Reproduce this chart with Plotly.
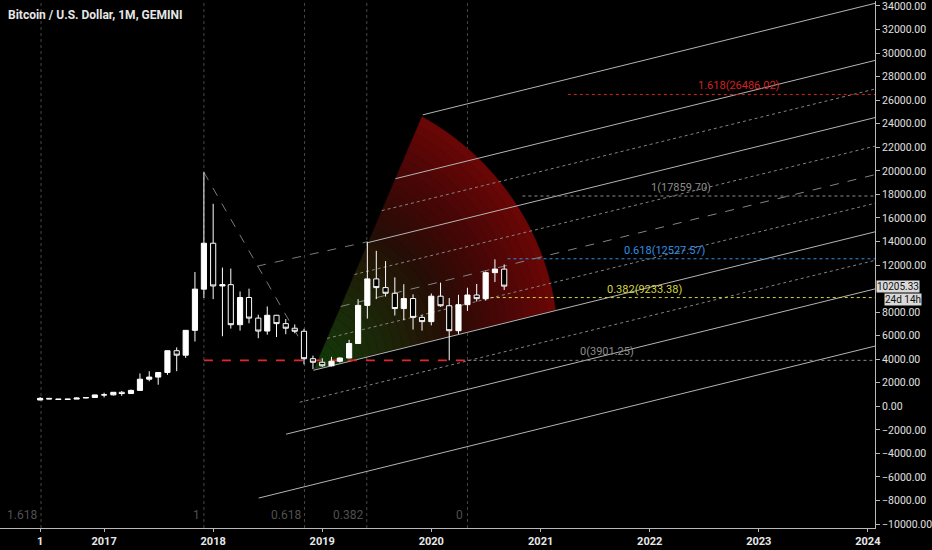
import math
import numpy as np
import pandas as pd
import plotly.graph_objects as go

# ---------------- data (monthly candles, BTC/USD Gemini) ----------------
first_month = "2016-06-01"
opens = [531, 673, 624, 575, 609, 700, 745,
         965, 970, 1190, 1080, 1350, 2300, 2480, 2870, 4720, 4340, 6450, 9950,
         13850, 10220, 10330, 6930, 9240, 7490, 6390, 7730, 7020, 6630, 6370, 4040,
         3740, 3440, 3820, 4100, 5330, 8570, 10820, 10080, 9600, 8300, 9150, 7550,
         7190, 9350, 8540, 6420, 8630, 9450, 9140, 11350, 11650]
highs = [780, 705, 626, 630, 740, 755, 980,
         1150, 1210, 1290, 1420, 2790, 2980, 2900, 4750, 5000, 6470, 11400, 19870,
         17200, 11780, 11700, 9750, 9990, 7780, 8480, 7760, 7410, 6950, 6580, 4300,
         4080, 4200, 4140, 5640, 9100, 13970, 13200, 12330, 10950, 10370, 9510, 7750,
         9580, 10500, 9190, 9470, 10070, 10390, 11450, 12480, 12050]
lows = [515, 600, 535, 570, 605, 680, 740,
        750, 920, 890, 1060, 1350, 2120, 1830, 2670, 2980, 4110, 5500, 9200,
        9100, 5950, 6600, 6430, 7050, 5780, 6080, 5880, 6120, 6200, 3560, 3150,
        3350, 3380, 3720, 4080, 5330, 7450, 9100, 9320, 7710, 7300, 6520, 6430,
        6870, 8450, 3901.25, 6150, 8100, 8900, 8970, 10550, 9880]
closes = [673, 624, 575, 609, 700, 745, 965,
          970, 1190, 1080, 1350, 2300, 2480, 2870, 4720, 4340, 6450, 9950, 13850,
          10220, 10330, 6930, 9240, 7490, 6390, 7730, 7020, 6630, 6370, 4040, 3740,
          3440, 3820, 4100, 5330, 8570, 10820, 10080, 9600, 8300, 9150, 7550, 7190,
          9350, 8540, 6420, 8630, 9450, 9140, 11350, 11650, 10205.33]
dates = pd.date_range(first_month, periods=len(opens), freq="MS")

last_price = 10205.33
countdown = "24d 14h"
title_text = "Bitcoin / U.S. Dollar, 1M, GEMINI"

tick_dates = ["2016-06-01", "2017-01-01", "2018-01-01", "2019-01-01", "2020-01-01",
              "2021-01-01", "2022-01-01", "2023-01-01", "2024-01-01"]
tick_text = ["1", "2017", "2018", "2019", "2020", "2021", "2022", "2023", "2024"]
# 10000 is covered by the last-price box in the reference
price_ticks = [v for v in range(-10000, 34001, 2000) if v != 10000]

# Fib time zones
fib_time_levels = [1.618, 1, 0.618, 0.382, 0]
fib_time_one = "2017-12-01"
fib_time_zero = "2020-05-01"

# Fib extension levels
fib_ext_levels = ["0", "0.382", "0.618", "1", "1.618"]
fib_ext_prices = [3901.25, 9233.38, 12527.57, 17859.70, 26486.02]
fib_ext_colors = ["#8c8c8c", "#d6d63a", "#2f8fe0", "#8c8c8c", "#d32020"]
fib_ext_start = ["2020-05-01", "2020-07-18", "2020-09-12", "2020-11-01", "2021-04-02"]
fib_ext_label_at = ["2021-05-05", "2021-08-03", "2021-09-29", "2021-12-31", "2022-06-04"]

# Pitchfork (median start, offset to upper prong, slope)
pf_mid_date, pf_mid_price = "2019-03-04", 8480
pf_off_days, pf_off_price = 183, 10850
pf_slope = 6.26  # USD per day
pf_levels = [1.5, 1, 0.75, 0.5, 0.25, 0, -0.25, -0.5, -0.75, -1, -1.5]
pf_styles = ["solid", "solid", "dot", "solid", "dot", "dash", "dot", "solid", "dot", "solid", "solid"]

# other drawings
zigzag_a = [("2017-12-01", 19870), ("2018-10-20", 5600)]
zigzag_b = [("2018-05-28", 11900), ("2019-06-01", 13970)]
support_price = 3901.25
support_span = ("2017-12-01", "2020-05-01")

wedge_apex = ("2018-12-05", 3137)
wedge_top = ("2019-12-01", 24586)

# ---------------- axes geometry ----------------
X0, X1 = pd.Timestamp("2016-01-18 14:00"), pd.Timestamp("2024-01-25")
Y0, Y1 = -10339, 34424
PLOT_W, PLOT_H = 883, 528
px_per_day = PLOT_W / ((X1 - X0).total_seconds() / 86400)
px_per_usd = PLOT_H / (Y1 - Y0)

FONT = "Liberation Sans Narrow, Arial Narrow, Roboto, sans-serif"

shapes = []

# ---------------- Fib wedge (gradient sector) ----------------
a_d, a_p = pd.Timestamp(wedge_apex[0]), wedge_apex[1]
t_d, t_p = pd.Timestamp(wedge_top[0]), wedge_top[1]
dxp = (t_d - a_d).days * px_per_day
dyp = (t_p - a_p) * px_per_usd
R1 = math.hypot(dxp, dyp)
th1 = math.atan2(dyp, dxp)
th2 = math.atan(pf_slope * px_per_usd / px_per_day)
R2 = 0.91 * R1
angles = np.linspace(th2, th1, 60)
Rth = R2 + (R1 - R2) * (angles - th2) / (th1 - th2)


def path_point(xp, yp):
    d = a_d + pd.Timedelta(days=float(xp / px_per_day))
    p = a_p + yp / px_per_usd
    return "%s,%.2f" % (d.strftime("%Y-%m-%d_%H:%M:%S"), p)


def wedge_color(t):
    stops = [(0.0, (18, 58, 10)), (0.3, (28, 38, 8)), (0.55, (38, 14, 6)),
             (0.8, (76, 6, 6)), (1.0, (108, 6, 6))]
    for (t0, c0), (t1, c1) in zip(stops[:-1], stops[1:]):
        if t <= t1:
            f = (t - t0) / (t1 - t0)
            return "rgb(%d,%d,%d)" % tuple(int(c0[k] + f * (c1[k] - c0[k])) for k in range(3))
    return "rgb(%d,%d,%d)" % stops[-1][1]


NB = 30
for i in range(NB):
    ro, ri = (i + 1) / NB, i / NB
    xo = ro * Rth * np.cos(angles)
    yo = ro * Rth * np.sin(angles)
    xi = (ri * Rth * np.cos(angles))[::-1]
    yi = (ri * Rth * np.sin(angles))[::-1]
    xs = np.concatenate([xo, xi])
    ys = np.concatenate([yo, yi])
    pts = [path_point(x, y) for x, y in zip(xs, ys)]
    path = "M " + " L ".join(pts) + " Z"
    col = wedge_color((i + 0.5) / NB)
    shapes.append(dict(type="path", path=path, xref="x", yref="y", fillcolor=col,
                       line=dict(color=col, width=0.6), layer="below"))

# ---------------- Fib time zones (vertical dotted) ----------------
t1d, t0d = pd.Timestamp(fib_time_one), pd.Timestamp(fib_time_zero)
span_days = (t0d - t1d).days
fib_time_dates = [t0d - pd.Timedelta(days=lv * span_days) for lv in fib_time_levels]
for d in fib_time_dates:
    shapes.append(dict(type="line", xref="x", yref="paper", x0=d, x1=d, y0=0, y1=1,
                       line=dict(color="#474747", width=1, dash="dot"), layer="below"))

# ---------------- Pitchfork ----------------
m_d = pd.Timestamp(pf_mid_date)
for lv, st in zip(pf_levels, pf_styles):
    sd = m_d + pd.Timedelta(days=lv * pf_off_days)
    sp = pf_mid_price + lv * pf_off_price
    ep = sp + pf_slope * (X1 - sd).days
    col = {"solid": "#b4b4b4", "dot": "#848484", "dash": "#848484"}[st]
    shapes.append(dict(type="line", xref="x", yref="y", x0=sd, y0=sp, x1=X1, y1=ep,
                       line=dict(color=col, width=1, dash=st), layer="below"))

# ---------------- other dashed lines ----------------
for seg in (zigzag_a, zigzag_b):
    shapes.append(dict(type="line", xref="x", yref="y",
                       x0=pd.Timestamp(seg[0][0]), y0=seg[0][1],
                       x1=pd.Timestamp(seg[1][0]), y1=seg[1][1],
                       line=dict(color="#7a7a7a", width=1, dash="dash"), layer="below"))

shapes.append(dict(type="line", xref="x", yref="y",
                   x0=pd.Timestamp(support_span[0]), x1=pd.Timestamp(support_span[1]),
                   y0=support_price, y1=support_price,
                   line=dict(color="#e02828", width=1.6, dash="dash"), layer="below"))

fig = go.Figure()

# ---------------- Fib extension levels ----------------
for lv, pr, col, sd, ld in zip(fib_ext_levels, fib_ext_prices, fib_ext_colors,
                               fib_ext_start, fib_ext_label_at):
    shapes.append(dict(type="line", xref="x", yref="y", x0=pd.Timestamp(sd), x1=X1,
                       y0=pr, y1=pr, line=dict(color=col, width=1, dash="dot"), layer="below"))
    fig.add_annotation(x=pd.Timestamp(ld), y=pr, text="%s(%.2f)" % (lv, pr),
                       showarrow=False, xanchor="left", yanchor="bottom", yshift=0,
                       font=dict(family=FONT, size=11, color=col))

# ---------------- candles ----------------
fig.add_trace(go.Candlestick(
    x=dates, open=opens, high=highs, low=lows, close=closes,
    increasing=dict(line=dict(color="#ffffff", width=1), fillcolor="#ffffff"),
    decreasing=dict(line=dict(color="#ffffff", width=1), fillcolor="#000000"),
    whiskerwidth=0, showlegend=False, hoverinfo="skip"))

# ---------------- fib time labels ----------------
for lv, d in zip(fib_time_levels, fib_time_dates):
    fig.add_annotation(x=d, y=1 - 515 / PLOT_H, yref="paper", text="%g" % lv,
                       showarrow=False, xanchor="right", xshift=-2, yanchor="middle",
                       font=dict(family=FONT, size=12, color="#505050"))

# title
fig.add_annotation(x=6 / PLOT_W, y=1 - 14 / PLOT_H, xref="paper", yref="paper",
                   text="<b>%s</b>" % title_text, showarrow=False, xanchor="left",
                   yanchor="middle", font=dict(family=FONT, size=12, color="#e6e6e6"))

# price boxes
fig.add_annotation(x=1, xref="paper", y=last_price, text="%.2f" % last_price,
                   showarrow=False, xanchor="left", xshift=1, yanchor="middle",
                   bgcolor="#d9d9d9", font=dict(family=FONT, size=10, color="#111111"),
                   borderpad=0)
fig.add_annotation(x=1, xref="paper", y=last_price, text=countdown,
                   showarrow=False, xanchor="left", xshift=9, yshift=-13, yanchor="middle",
                   bgcolor="#d9d9d9", font=dict(family=FONT, size=10, color="#111111"),
                   borderpad=0)

fig.update_layout(
    width=932, height=550,
    margin=dict(l=0, r=49, t=0, b=22),
    paper_bgcolor="#000000", plot_bgcolor="#000000",
    showlegend=False,
    boxgap=0.12,
    shapes=shapes,
    xaxis=dict(type="date", range=[X0, X1], rangeslider=dict(visible=False),
               showgrid=False, zeroline=False, showline=True, linecolor="#b8b8b8",
               linewidth=1, ticks="outside", ticklen=3, tickcolor="#b8b8b8",
               tickvals=[pd.Timestamp(t) for t in tick_dates],
               ticktext=["<b>%s</b>" % t for t in tick_text],
               ticklabeloverflow="allow",
               tickfont=dict(family=FONT, size=11, color="#e8e8e8")),
    yaxis=dict(side="right", range=[Y0, Y1], showgrid=False, zeroline=False,
               showline=True, linecolor="#b8b8b8", linewidth=1, ticks="outside",
               ticklen=4, tickcolor="#b8b8b8", tickvals=price_ticks, tickformat=".2f",
               ticklabeloverflow="allow",
               tickfont=dict(family=FONT, size=10.5, color="#e0e0e0")),
    font=dict(family=FONT),
)

fig.write_html("out.html", config={"displayModeBar": False},
               post_script="document.body.style.margin='0';")
